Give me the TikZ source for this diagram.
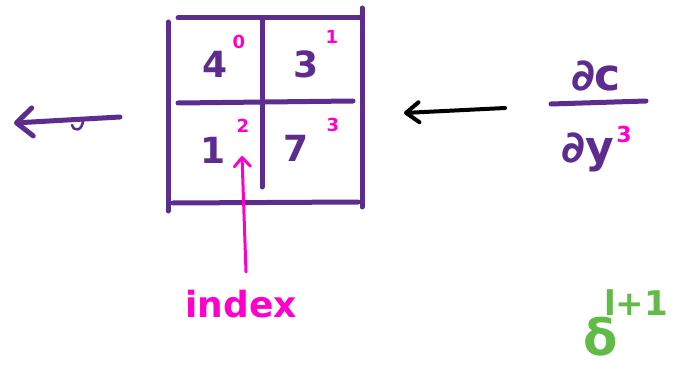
\documentclass[tikz,border=0pt]{standalone}
\usepackage{fontspec}
\setmainfont{DejaVu Sans}
\usetikzlibrary{arrows.meta}
\definecolor{inkpurple}{RGB}{92,44,142}
\definecolor{inkpink}{RGB}{255,0,204}
\definecolor{inkgreen}{RGB}{98,186,72}
\begin{document}
\begin{tikzpicture}[x=1pt,y=-1pt,
  stroke/.style={line width=5pt,line cap=round,color=inkpurple},
  digit/.style={inner sep=0pt,text=inkpurple,font=\bfseries\fontsize{36}{36}\selectfont},
  sup/.style={inner sep=0pt,text=inkpink,font=\bfseries\fontsize{18}{18}\selectfont},
  barb/.style={-{Straight Barb[length=16pt 0,width=28pt 0,round]}},
  word/.style={inner sep=0pt,font=\bfseries\fontsize{36}{36}\selectfont}]
\useasboundingbox (0,0) rectangle (676,374);
% grid
\draw[stroke] (168,22) -- (168,211);
\draw[stroke] (178,18) -- (362,18);
\draw[stroke] (362,8) -- (362,207);
\draw[stroke] (173,203) -- (358,202);
\draw[stroke] (262,18) -- (262,187);
\draw[stroke] (178,103) -- (353,101);
% digits
\node[digit] (d4) at (215,64) {4};
\node[digit] (d3) at (306,64) {3};
\node[digit] (d1) at (213,150) {1};
\node[digit] (d7) at (296,148) {7};
\node[sup] (i0) at (239,42) {0};
\node[sup] (i1) at (332,37) {1};
\node[sup] (i2) at (243,126) {2};
\node[sup] (i3) at (333,125) {3};
% index label and arrow
\node[word,text=inkpink] (idx) at (241,304) {index};
\coordinate (tipIdx) at (242,156);
\draw[line width=3pt,line cap=round,color=inkpink,-{Straight Barb[length=9pt 0,width=16pt 0,round]}] (246,272) -- (tipIdx);
% left arrow
\coordinate (leftEnd) at (14,123);
\draw[stroke,barb] (120,117) -- (leftEnd);
\draw[line width=2.5pt,line cap=round,color=inkpurple] (72,125) .. controls (74,132) and (82,131) .. (83,121);
% fraction
\node[word,text=inkpurple,font=\bfseries\fontsize{44}{44}\selectfont] (dc) at (596,76) {∂c};
\coordinate (fl) at (551,104);
\coordinate (fr) at (646,101);
\draw[stroke] (fl) -- (fr);
\node[word,text=inkpurple,font=\bfseries\fontsize{44}{44}\selectfont] (dy) at (588,152) {∂y};
\node[sup,font=\bfseries\fontsize{22}{22}\selectfont] (e3) at (624,134) {3};
% black arrow
\coordinate (blackStart) at (505,108);
\coordinate (blackTip) at (404,113);
\draw[line width=4pt,line cap=round,black,-{Straight Barb[length=13pt 0,width=20pt 0,round]}] (blackStart) -- (blackTip);
% delta
\node[word,text=inkgreen,font=\bfseries\fontsize{50}{50}\selectfont] (delta) at (601,337) {δ};
\node[word,text=inkgreen,font=\bfseries\fontsize{34}{34}\selectfont] (lp1) at (636,303) {l+1};
\end{tikzpicture}
\end{document}
